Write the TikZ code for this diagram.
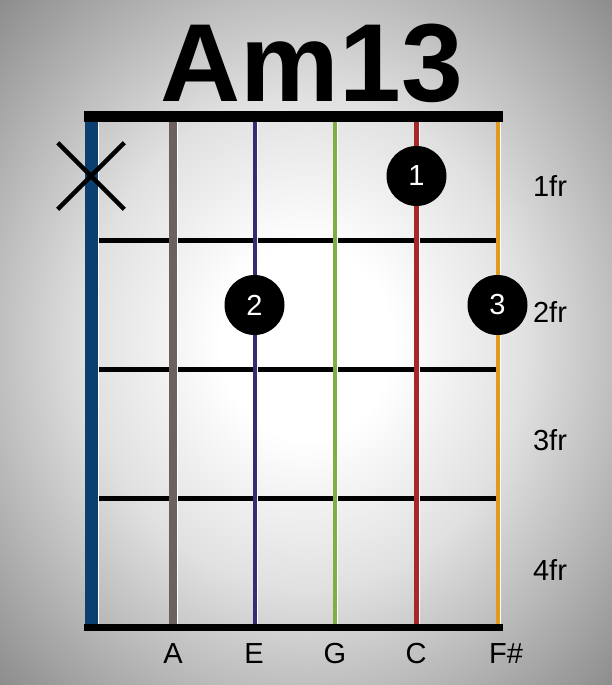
\documentclass[tikz,border=0pt]{standalone}
\usepackage{fontspec}
\setmainfont{Liberation Sans}
\usepackage{xcolor}
\usetikzlibrary{shapes.misc,positioning}

\definecolor{strE}{HTML}{0B3F70}
\definecolor{strA}{HTML}{6E6060}
\definecolor{strD}{HTML}{3A2A70}
\definecolor{strG}{HTML}{7FAE45}
\definecolor{strB}{HTML}{A8282A}
\definecolor{strHi}{HTML}{E09A20}

\pgfdeclareradialshading{vignette}{\pgfpoint{0bp}{0bp}}{color(0bp)=(white); color(7bp)=(white); color(18bp)=(black!12); color(25bp)=(black!25); color(35.5bp)=(black!45); color(50bp)=(black!45)}

\begin{document}
\begin{tikzpicture}[
  x=1pt, y=-1pt,
  finger/.style={circle, fill=black, text=white, minimum size=60pt, inner sep=0pt, font=\fontsize{29}{29}\selectfont},
  fretlabel/.style={anchor=base, font=\fontsize{29}{29}\selectfont},
  notelabel/.style={anchor=base, font=\fontsize{29}{29}\selectfont},
  fretline/.style={line width=5pt},
  bar/.style={fill=black, inner sep=0pt, minimum width=419pt, anchor=north west},
]

\useasboundingbox (0,0) rectangle (612,685);
\shade[shading=vignette] (0,0) rectangle (612,685);

\node[anchor=base, font=\fontsize{111}{111}\selectfont\bfseries] (title) at (312,101) {Am13};

\node[bar, minimum height=11pt] (nut) at (84,111) {};
\node[bar, minimum height=7pt] (tail) at (84,624) {};

\foreach \i/\y in {2/240.5, 3/369.5, 4/498} {
  \coordinate (f\i l) at (98,\y);
  \coordinate (f\i r) at (496,\y);
  \draw[fretline] (f\i l) -- (f\i r);
}

\foreach \s/\x/\col/\w in {1/91.5/strE/13, 2/173/strA/8, 3/255/strD/4, 4/335/strG/4, 5/416.5/strB/5, 6/498/strHi/4} {
  \coordinate (s\s t) at (\x,122);
  \coordinate (s\s b) at (\x,624);
  \draw[white, line width=\w pt+1pt] (s\s t) -- (s\s b);
  \draw[\col, line width=\w pt] (s\s t) -- (s\s b);
}

\node[cross out, draw, line width=4.5pt, minimum size=62pt, inner sep=0pt] (mute) at (91,176) {};

\node[finger] (dot1) at (416.5,176) {1};
\node[finger] (dot2) at (254.5,305) {2};
\node[finger] (dot3) at (497.5,305) {3};

\node[fretlabel] (fr1) at (550,196) {1fr};
\node[fretlabel] (fr2) at (550,322) {2fr};
\node[fretlabel] (fr3) at (550,450) {3fr};
\node[fretlabel] (fr4) at (550,580) {4fr};

\node[notelabel] (nA) at (173,663) {A};
\node[notelabel] (nE) at (254,663) {E};
\node[notelabel] (nG) at (335,663) {G};
\node[notelabel] (nC) at (416,663) {C};
\node[notelabel] (nF) at (506,663) {F\#};

\end{tikzpicture}
\end{document}
